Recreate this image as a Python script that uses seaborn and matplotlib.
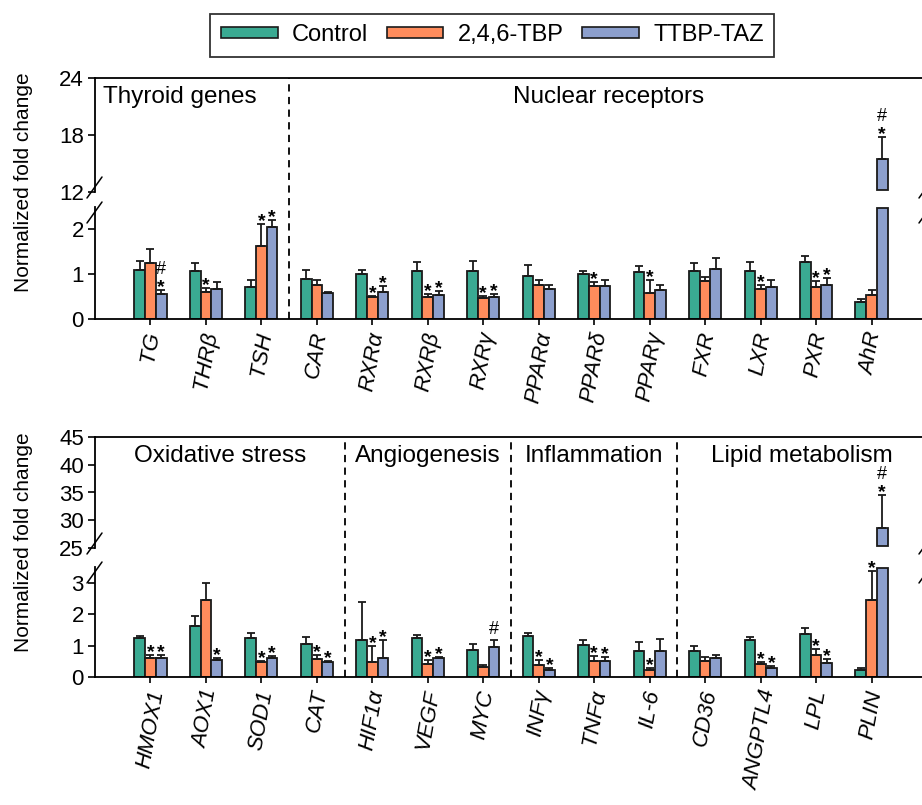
import numpy as np
import pandas as pd
import matplotlib.pyplot as plt
import seaborn as sns
from matplotlib.patches import Patch
from matplotlib.lines import Line2D
from matplotlib import transforms

# groups and colours
groups = ['Control', '2,4,6-TBP', 'TTBP-TAZ']
palette = ['#3aaa92', '#ff8c5c', '#8c9fcd']

# top panel: thyroid genes + nuclear receptors
genes_a = ['TG', 'THRβ', 'TSH', 'CAR', 'RXRα', 'RXRβ', 'RXRγ',
           'PPARα', 'PPARδ', 'PPARγ', 'FXR', 'LXR', 'PXR', 'AhR']
ctrl_a = [1.09, 1.07, 0.72, 0.89, 1.01, 1.07, 1.08, 0.96, 1.01, 1.04, 1.07, 1.08, 1.27, 0.37]
ctrl_a_err = [0.21, 0.18, 0.16, 0.21, 0.09, 0.20, 0.21, 0.24, 0.07, 0.15, 0.18, 0.19, 0.14, 0.07]
tbp_a = [1.26, 0.60, 1.64, 0.76, 0.49, 0.49, 0.47, 0.76, 0.73, 0.59, 0.85, 0.67, 0.72, 0.54]
tbp_a_err = [0.31, 0.09, 0.48, 0.10, 0.02, 0.07, 0.05, 0.12, 0.09, 0.28, 0.09, 0.08, 0.13, 0.10]
taz_a = [0.56, 0.68, 2.05, 0.57, 0.61, 0.54, 0.49, 0.66, 0.73, 0.65, 1.12, 0.71, 0.75, 15.5]
taz_a_err = [0.09, 0.14, 0.15, 0.04, 0.12, 0.09, 0.06, 0.10, 0.13, 0.10, 0.24, 0.17, 0.16, 2.3]
ctrl_a_sig = [''] * 14
tbp_a_sig = ['', '*', '*', '', '*', '*', '*', '', '*', '*', '', '*', '*', '']
taz_a_sig = ['*#', '', '*', '', '*', '*', '*', '', '', '', '', '', '*', '*#']
sections_a = ['Thyroid genes', 'Nuclear receptors']
section_sizes_a = [3, 11]

# bottom panel
genes_b = ['HMOX1', 'AOX1', 'SOD1', 'CAT', 'HIF1α', 'VEGF', 'MYC',
           'INFγ', 'TNFα', 'IL-6', 'CD36', 'ANGPTL4', 'LPL', 'PLIN']
ctrl_b = [1.24, 1.62, 1.24, 1.05, 1.19, 1.25, 0.86, 1.32, 1.02, 0.83, 0.82, 1.17, 1.36, 0.22]
ctrl_b_err = [0.08, 0.33, 0.15, 0.21, 1.21, 0.09, 0.19, 0.07, 0.17, 0.27, 0.16, 0.10, 0.21, 0.07]
tbp_b = [0.59, 2.45, 0.47, 0.58, 0.49, 0.40, 0.32, 0.39, 0.51, 0.22, 0.51, 0.40, 0.70, 2.45]
tbp_b_err = [0.11, 0.54, 0.05, 0.12, 0.51, 0.15, 0.07, 0.14, 0.16, 0.07, 0.13, 0.09, 0.19, 0.91]
taz_b = [0.62, 0.54, 0.61, 0.48, 0.59, 0.61, 0.97, 0.22, 0.52, 0.83, 0.59, 0.29, 0.44, 28.6]
taz_b_err = [0.08, 0.08, 0.07, 0.02, 0.60, 0.04, 0.22, 0.06, 0.12, 0.37, 0.10, 0.07, 0.12, 6.0]
ctrl_b_sig = [''] * 14
tbp_b_sig = ['*', '', '*', '*', '*', '*', '', '*', '*', '*', '', '*', '*', '*']
taz_b_sig = ['*', '*', '*', '*', '*', '*', '#', '*', '*', '', '', '*', '*', '*#']
sections_b = ['Oxidative stress', 'Angiogenesis', 'Inflammation', 'Lipid metabolism']
section_sizes_b = [4, 3, 3, 4]

sns.set_style('ticks')
plt.rcParams['font.family'] = ['Liberation Sans', 'DejaVu Sans']
plt.rcParams['axes.linewidth'] = 1.3
for key in ('text.color', 'axes.labelcolor', 'xtick.color', 'ytick.color', 'axes.edgecolor'):
    plt.rcParams[key] = 'black'

W, H = 922, 805
fig = plt.figure(figsize=(W / 100, H / 100), dpi=100)


def px_axes(x0, x1, ytop, ybot):
    return fig.add_axes([x0 / W, 1 - ybot / H, (x1 - x0) / W, (ybot - ytop) / H])


def slash(ax, cx, cy, dx0, dy0, dx1, dy1):
    x, y = ax.transAxes.transform((cx, cy))
    fig.add_artist(Line2D([x + dx0, x + dx1], [y + dy0, y + dy1], color='black',
                          lw=1.1, transform=transforms.IdentityTransform()))


def panel(y_hi, y_lo, genes, means, errs, sigs, lim_hi, lim_lo, ticks_hi, ticks_lo,
          sections, sizes, first_left=False):
    ax_hi = px_axes(95, 927, *y_hi)
    ax_lo = px_axes(95, 927, *y_lo)
    df = pd.concat([pd.DataFrame({'gene': genes, 'value': m, 'group': g})
                    for g, m in zip(groups, means)])
    for ax, lim in ((ax_hi, lim_hi), (ax_lo, lim_lo)):
        sns.barplot(data=df, x='gene', y='value', hue='group', palette=palette,
                    hue_order=groups, width=0.58, saturation=1, errorbar=None,
                    edgecolor='#1a1a1a', linewidth=1.3, legend=False, ax=ax)
        ax.set_ylim(*lim)
        span = lim[1] - lim[0]
        bar_conts = list(ax.containers)
        for k, cont in enumerate(bar_conts):
            xs = [p.get_x() + p.get_width() / 2 for p in cont.patches]
            # close the cut bars inside each segment
            for p in cont.patches:
                h = p.get_height()
                if ax is ax_lo and h > lim[1]:
                    p.set_height(lim[1] - 0.012 * span)
                if ax is ax_hi and h > lim[0]:
                    p.set_y(lim[0] + 0.015 * span)
                    p.set_height(h - lim[0] - 0.015 * span)
            ax.errorbar(xs, means[k], yerr=[np.zeros(len(xs)), errs[k]], fmt='none',
                        ecolor='#1a1a1a', elinewidth=1.3, capsize=3.2, capthick=1.3,
                        zorder=3)
            for x, m, e, s in zip(xs, means[k], errs[k], sigs[k]):
                top = m + e
                if not s or not (lim[0] <= top <= lim[1]):
                    continue
                if '*' in s:
                    ax.annotate('*', (x, top), xytext=(0, -1.5), textcoords='offset points',
                                ha='center', va='baseline', fontsize=14, fontweight='bold')
                if '#' in s:
                    off = 8.5 if '*' in s else 1.5
                    ax.annotate('#', (x, top), xytext=(0, off), textcoords='offset points',
                                ha='center', va='bottom', fontsize=13)
        ax.set_xlim(-1, len(genes))
        ax.set_xlabel('')
        ax.set_ylabel('')
    ax_hi.set_yticks(ticks_hi)
    ax_lo.set_yticks(ticks_lo)
    ax_hi.spines['bottom'].set_visible(False)
    ax_lo.spines['top'].set_visible(False)
    ax_hi.tick_params(axis='x', bottom=False, labelbottom=False)
    for ax in (ax_hi, ax_lo):
        ax.tick_params(axis='y', direction='out', length=5, width=1.2, labelsize=16, pad=3)
    ax_lo.tick_params(axis='x', direction='out', length=4, width=1.2, labelsize=16,
                      labelrotation=80, pad=4)
    for lab in ax_lo.get_xticklabels():
        lab.set_fontstyle('italic')

    # section dividers and titles
    lo_bot = ax_lo.get_position().y0
    hi_top = ax_hi.get_position().y1
    tr = transforms.blended_transform_factory(ax_lo.transData, fig.transFigure)
    edges = np.cumsum([0] + sizes) - 0.5
    edges[0] = -1
    for e in edges[1:-1]:
        fig.add_artist(Line2D([e, e], [lo_bot, hi_top], transform=tr, color='black',
                              lw=1.3, linestyle=(0, (4, 3))))
    edges[-1] = len(genes)
    for i, name in enumerate(sections):
        if first_left and i == 0:
            ax_hi.text(-0.85, 0.83, name, transform=ax_hi.get_xaxis_transform(),
                       ha='left', va='center', fontsize=17.5)
        else:
            ax_hi.text((edges[i] + edges[i + 1]) / 2, 0.83, name,
                       transform=ax_hi.get_xaxis_transform(),
                       ha='center', va='center', fontsize=17.5)

    # axis break marks
    for cx in (0, 1):
        slash(ax_hi, cx, 0, -8, -6, 7, 15)
        slash(ax_lo, cx, 1, -8, -16, 7, 5)
    return ax_hi, ax_lo


panel((78, 192), (207, 319), genes_a, [ctrl_a, tbp_a, taz_a],
      [ctrl_a_err, tbp_a_err, taz_a_err], [ctrl_a_sig, tbp_a_sig, taz_a_sig],
      (12, 24), (0, 2.5), [12, 18, 24], [0, 1, 2], sections_a, section_sizes_a,
      first_left=True)
panel((437, 548), (567, 677), genes_b, [ctrl_b, tbp_b, taz_b],
      [ctrl_b_err, tbp_b_err, taz_b_err], [ctrl_b_sig, tbp_b_sig, taz_b_sig],
      (25, 45), (0, 3.5), [25, 30, 35, 40, 45], [0, 1, 2, 3], sections_b, section_sizes_b)

fig.text(0.025, 1 - 182 / H, 'Normalized fold change', rotation=90, ha='center',
         va='center', fontsize=15)
fig.text(0.025, 1 - 542 / H, 'Normalized fold change', rotation=90, ha='center',
         va='center', fontsize=15)

handles = [Patch(facecolor=c, edgecolor='#1a1a1a', linewidth=1.2) for c in palette]
leg = fig.legend(handles, groups, loc='upper center', bbox_to_anchor=(0.534, 0.983),
                 ncol=3, fontsize=17, frameon=True, fancybox=False, edgecolor='black',
                 handlelength=2.4, handleheight=0.35, handletextpad=0.6,
                 columnspacing=0.8, borderpad=0.45, borderaxespad=0)
leg.get_frame().set_linewidth(1.3)

fig.savefig('out.png', dpi=100)
